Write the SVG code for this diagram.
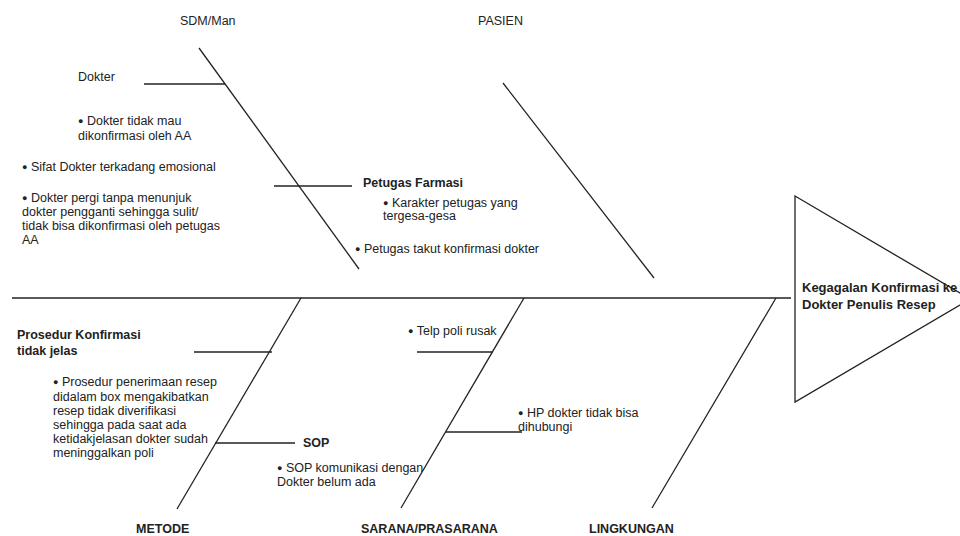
<svg xmlns="http://www.w3.org/2000/svg" width="960" height="536" viewBox="0 0 960 536">
<style>
  text { font-family: "Liberation Sans", Arial, sans-serif; font-size: 12.5px; fill: #222; }
  .b { font-weight: bold; }
  .bl { font-size: 9px; baseline-shift: 1px; }
  line, polygon { stroke: #222; stroke-width: 1.3; fill: none; }
</style>
<rect width="960" height="536" fill="#fff"/>
<g id="connectors">
  <line x1="12" y1="298" x2="791" y2="298"/>
  <line x1="199" y1="48" x2="359" y2="269"/>
  <line x1="144" y1="84" x2="225" y2="84"/>
  <line x1="274" y1="186" x2="352" y2="186"/>
  <line x1="503" y1="83" x2="654" y2="278"/>
  <line x1="301" y1="298" x2="177" y2="509"/>
  <line x1="194" y1="352" x2="272" y2="352"/>
  <line x1="215" y1="443" x2="295" y2="443"/>
  <line x1="524" y1="298" x2="401" y2="508"/>
  <line x1="417" y1="352" x2="493" y2="352"/>
  <line x1="446" y1="432" x2="522" y2="432"/>
  <line x1="776" y1="298" x2="652" y2="508"/>
</g>
<g id="effect">
  <polygon points="795,196 970,299 795,402"/>
  <text class="b" x="802" y="292" style="font-size:13px">Kegagalan Konfirmasi ke</text>
  <text class="b" x="802" y="309" style="font-size:13px">Dokter Penulis Resep</text>
</g>
<g id="cat-sdm"><text x="180" y="25">SDM/Man</text></g>
<g id="cat-pasien"><text x="478" y="25">PASIEN</text></g>
<g id="cat-metode"><text class="b" x="136" y="533">METODE</text></g>
<g id="cat-sarana"><text class="b" x="361" y="533">SARANA/PRASARANA</text></g>
<g id="cat-lingkungan"><text class="b" x="589" y="533">LINGKUNGAN</text></g>
<g id="dokter">
  <text x="78" y="81">Dokter</text>
  <text x="78" y="125"><tspan class="bl">●</tspan> Dokter tidak mau</text>
  <text x="78" y="140">dikonfirmasi oleh AA</text>
  <text x="22" y="171"><tspan class="bl">●</tspan> Sifat Dokter terkadang emosional</text>
  <text x="22" y="202"><tspan class="bl">●</tspan> Dokter pergi tanpa menunjuk</text>
  <text x="22" y="216">dokter pengganti sehingga sulit/</text>
  <text x="22" y="230">tidak bisa dikonfirmasi oleh petugas</text>
  <text x="22" y="244">AA</text>
</g>
<g id="petugas">
  <text class="b" x="363" y="187">Petugas Farmasi</text>
  <text x="383" y="207"><tspan class="bl">●</tspan> Karakter petugas yang</text>
  <text x="383" y="220">tergesa-gesa</text>
  <text x="355" y="253"><tspan class="bl">●</tspan> Petugas takut konfirmasi dokter</text>
</g>
<g id="prosedur">
  <text class="b" x="17" y="339">Prosedur Konfirmasi</text>
  <text class="b" x="17" y="355">tidak jelas</text>
  <text x="53" y="386"><tspan class="bl">●</tspan> Prosedur penerimaan resep</text>
  <text x="53" y="401">didalam box mengakibatkan</text>
  <text x="53" y="415">resep tidak diverifikasi</text>
  <text x="53" y="429">sehingga pada saat ada</text>
  <text x="53" y="443">ketidakjelasan dokter sudah</text>
  <text x="53" y="457">meninggalkan poli</text>
</g>
<g id="sop">
  <text class="b" x="303" y="447">SOP</text>
  <text x="277" y="472"><tspan class="bl">●</tspan> SOP komunikasi dengan</text>
  <text x="277" y="486">Dokter belum ada</text>
</g>
<g id="telp">
  <text x="408" y="335"><tspan class="bl">●</tspan> Telp poli rusak</text>
</g>
<g id="hp">
  <text x="518" y="417"><tspan class="bl">●</tspan> HP dokter tidak bisa</text>
  <text x="518" y="431">dihubungi</text>
</g>
</svg>
